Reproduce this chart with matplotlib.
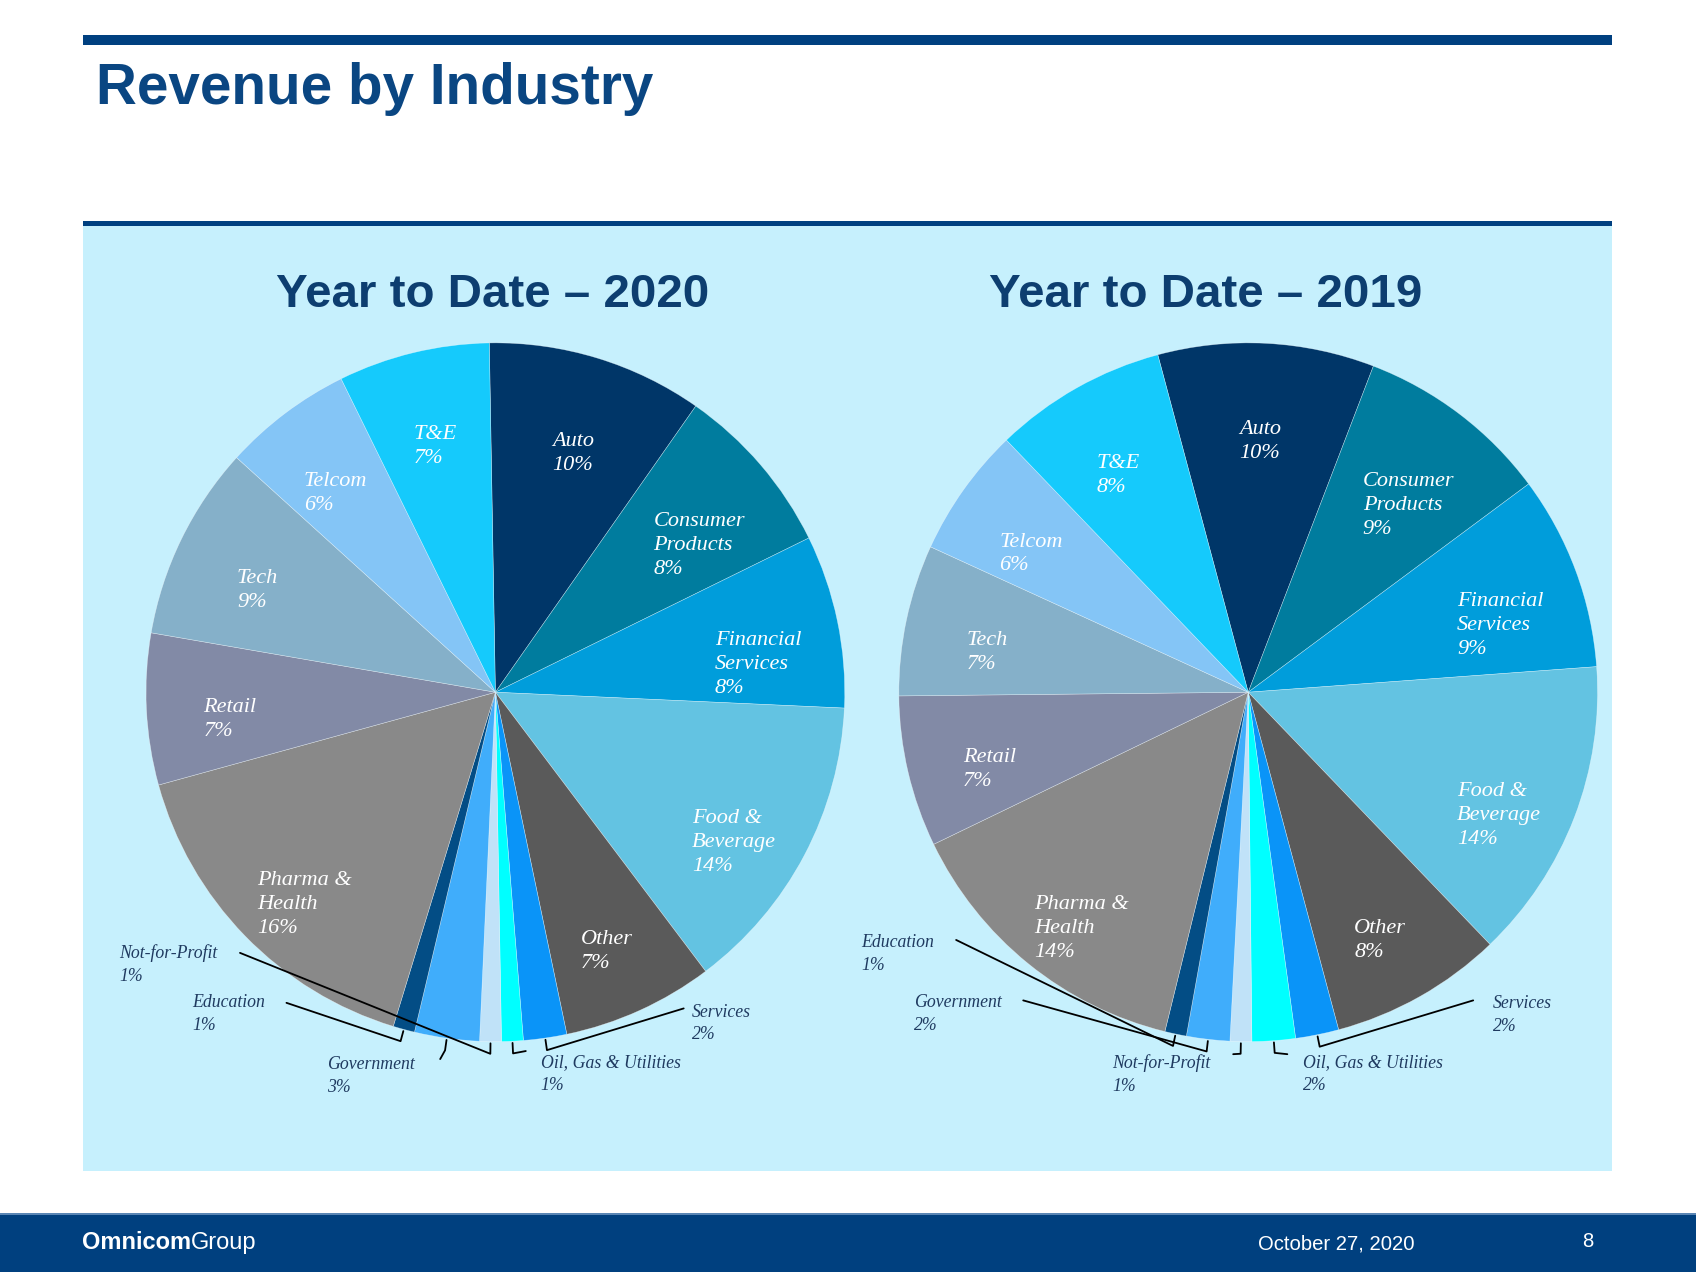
import numpy as np
import matplotlib
matplotlib.use('Agg')
from matplotlib import pyplot as plt
from matplotlib.patches import Rectangle
from matplotlib.text import Annotation

# slices clockwise from 12 o'clock
industries = ['Auto', 'Consumer\nProducts', 'Financial\nServices', 'Food &\nBeverage', 'Other',
              'Services', 'Oil, Gas & Utilities', 'Not-for-Profit', 'Government', 'Education',
              'Pharma &\nHealth', 'Retail', 'Tech', 'Telcom', 'T&E']
ytd_2020 = [10, 8, 8, 14, 7, 2, 1, 1, 3, 1, 16, 7, 9, 6, 7]
ytd_2019 = [10, 9, 9, 14, 8, 2, 2, 1, 2, 1, 14, 7, 7, 6, 8]
titles = ['Year to Date \u2013 2020', 'Year to Date \u2013 2019']

colors = ['#003668', '#007C9E', '#009DDB', '#63C3E2', '#5A5A5A',
          '#0A94F8', '#00FFFF', '#C0E2F8', '#40ADFB', '#034D85',
          '#898989', '#828AA6', '#85B0C9', '#84C5F6', '#15CAFC']

NAVY = '#004080'
PANEL = '#C6F0FD'
W, H = 1568.0, 1176.0   # layout grid (scaled to the output size)


def fx(px):
    return px / W


def fy(py):
    return 1 - py / H


def block(x0, y0, x1, y1, color):
    fig.add_artist(Rectangle((fx(x0), fy(y1)), fx(x1) - fx(x0), fy(y0) - fy(y1),
                             transform=fig.transFigure, color=color, lw=0, zorder=-5))


# label layout per chart: index -> (x, y) in pie radius units (top-left of text)
# outside labels also carry the leader anchor
inside_2020 = {0: (0.164, 0.745), 1: (0.452, 0.515), 2: (0.628, 0.175), 3: (0.563, -0.335),
               4: (0.245, -0.68), 10: (-0.681, -0.512), 11: (-0.836, -0.017),
               12: (-0.740, 0.352), 13: (-0.548, 0.63), 14: (-0.235, 0.764)}
outside_2020 = {7: ((-1.077, -0.72), (-0.731, -0.746)), 9: ((-0.867, -0.863), (-0.598, -0.889)),
                8: ((-0.483, -1.042), (-0.158, -1.05)), 6: ((0.130, -1.036), (0.087, -1.027)),
                5: ((0.563, -0.891), (0.539, -0.905))}
inside_2019 = {0: (-0.025, 0.779), 1: (0.328, 0.63), 2: (0.598, 0.287), 3: (0.598, -0.258),
               4: (0.303, -0.648), 10: (-0.613, -0.58), 11: (-0.817, -0.159),
               12: (-0.805, 0.175), 13: (-0.712, 0.457), 14: (-0.433, 0.683)}
outside_2019 = {9: ((-1.108, -0.693), (-0.836, -0.709)), 8: ((-0.957, -0.863), (-0.644, -0.882)),
                7: ((-0.390, -1.036), (-0.043, -1.036)), 6: ((0.158, -1.036), (0.112, -1.036)),
                5: ((0.700, -0.866), (0.644, -0.882))}

charts = [
    (ytd_2020, 458, 91, inside_2020, outside_2020, titles[0], 455),
    (ytd_2019, 1154, 105, inside_2019, outside_2019, titles[1], 1115),
]

fig = plt.figure(figsize=(16.96, 12.72), dpi=100)
fig.patch.set_facecolor('white')

# background blocks
block(77, 32, 1490, 42, NAVY)
block(77, 209, 1490, 1083, PANEL)
block(77, 204, 1490, 209, NAVY)
block(0, 1122, W, H, '#00407F')
block(0, 1121.5, W, 1123.5, '#5A86B5')

fig.text(fx(89), fy(82), 'Revenue by Industry', fontsize=40.8, fontweight='bold',
         family='Liberation Sans', color='#0A4682', va='center', ha='left')

# footer
logo = fig.text(fx(76), fy(1149), 'Omnicom', fontsize=17, fontweight='bold',
                family='Liberation Sans', color='white', va='center', ha='left')
fig.add_artist(Annotation('Group', xy=(1, 0.5), xycoords=logo, fontsize=17,
                          family='Liberation Sans', color='white', va='center', ha='left'))
fig.text(fx(1235), fy(1150), 'October 27, 2020', fontsize=14.6, family='Liberation Sans',
         color='white', va='center', ha='center')
fig.text(fx(1468), fy(1148), '8', fontsize=14.6, family='Liberation Sans',
         color='white', va='center', ha='center')

R = 323
for values, cx, start, inside, outside, title, tx in charts:
    fig.text(fx(tx), fy(273), title, fontsize=34.2, fontweight='bold', family='Liberation Sans',
             color='#0D3E70', ha='center', va='center')
    ax = fig.add_axes([fx(cx - 1.5 * R), fy(640 + 1.5 * R), 3 * R / W, 3 * R / H])
    wedges, _ = ax.pie(values, colors=colors, startangle=start, counterclock=False, radius=1,
                       wedgeprops=dict(linewidth=0.4, edgecolor=(1, 1, 1, 0.5)))
    ax.set_xlim(-1.5, 1.5)
    ax.set_ylim(-1.5, 1.5)
    ax.axis('off')
    for i, (x, y) in inside.items():
        ax.text(x, y, f'{industries[i]}\n{values[i]}%', color='white', fontsize=16,
                family='Liberation Serif', style='italic', ha='left', va='top', linespacing=1.35)
    for i, ((x, y), (ax0, ay0)) in outside.items():
        ax.text(x, y, f'{industries[i]}\n{values[i]}%', color='#1F3A60', fontsize=12.8,
                family='Liberation Serif', style='italic', ha='left', va='top', linespacing=1.45)
        w = wedges[i]
        mid = np.deg2rad((w.theta1 + w.theta2) / 2)
        ex, ey = 1.005 * np.cos(mid), 1.005 * np.sin(mid)
        bx, by = 1.035 * np.cos(mid), 1.035 * np.sin(mid)
        ax.plot([ax0, bx, ex], [ay0, by, ey], color='black', lw=1.3, solid_capstyle='round')

fig.savefig('out.png', dpi=100, facecolor='white')
